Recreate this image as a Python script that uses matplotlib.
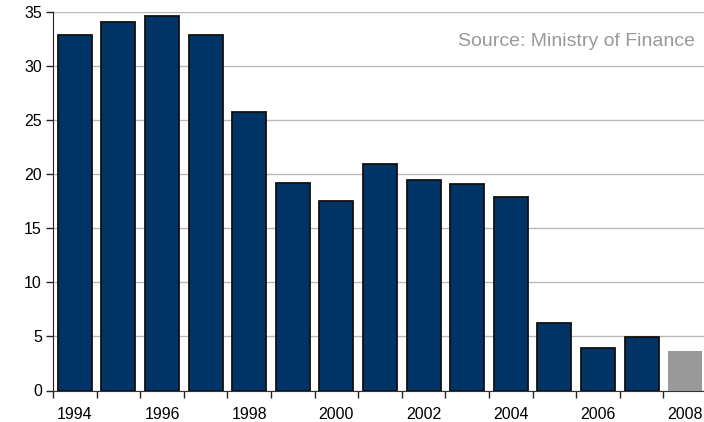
import matplotlib
matplotlib.use("Agg")
import matplotlib.pyplot as plt
import numpy as np

years = [1994, 1995, 1996, 1997, 1998, 1999, 2000, 2001, 2002, 2003, 2004, 2005, 2006, 2007, 2008]
values = [32.8, 34.05, 34.6, 32.8, 25.75, 19.2, 17.5, 20.9, 19.45, 19.05, 17.9, 6.25, 3.95, 4.95, 3.65]
bar_colors = ["#003366"] * 14 + ["#999999"]
edge_colors = ["#111111"] * 14 + ["none"]
y_ticks = [0, 5, 10, 15, 20, 25, 30, 35]
label_years = [1994, 1996, 1998, 2000, 2002, 2004, 2006, 2008]
source_text = "Source: Ministry of Finance"

plt.rcParams['font.family'] = ['Liberation Sans', 'DejaVu Sans']

W, H = 704, 422
fig = plt.figure(figsize=(W / 100, H / 100), dpi=100)
left, right, top, bottom = 53, 707, 11.5, 390.5
ax = fig.add_axes([left / W, 1 - bottom / H, (right - left) / W, (bottom - top) / H])

x = np.arange(len(years))
ax.bar(x, values, width=0.78, color=bar_colors, edgecolor=edge_colors, linewidth=1.3, zorder=3)

ax.set_xlim(-0.5, len(years) - 0.5)
ax.set_ylim(0, 35)
ax.set_yticks(y_ticks)
ax.set_yticklabels([str(t) for t in y_ticks], fontsize=11.5)
ax.yaxis.grid(True, color="#b8b8b8", linewidth=1, zorder=0)

ax.set_xticks([years.index(y) for y in label_years])
ax.set_xticklabels([str(y) for y in label_years], fontsize=11.5)
ax.tick_params(axis='x', which='major', length=0, pad=12)
ax.set_xticks(np.arange(-0.5, len(years), 1.0), minor=True)
ax.tick_params(axis='x', which='minor', length=5, width=1, color="#222222", direction='out')
ax.tick_params(axis='y', length=5, width=1, color="#222222", direction='out', pad=3)

for s in ['top', 'right']:
    ax.spines[s].set_visible(False)
ax.spines['left'].set_color("#222222")
ax.spines['bottom'].set_color("#333333")

fig.text(695 / W, 1 - 42 / H, source_text, ha='right', va='center', fontsize=14, color="#999999")

fig.savefig("out.png", dpi=100)
